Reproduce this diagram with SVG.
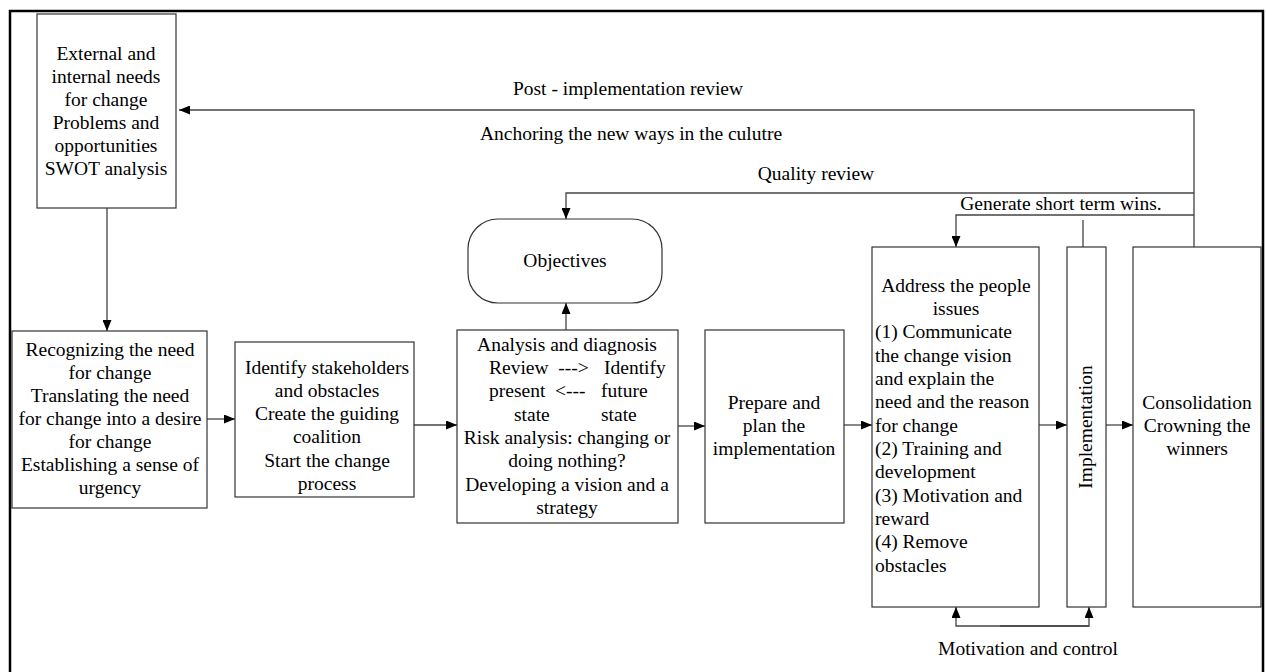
<svg xmlns="http://www.w3.org/2000/svg" width="1266" height="672" viewBox="0 0 1266 672">
<defs>
<marker id="arr" markerUnits="userSpaceOnUse" markerWidth="11" markerHeight="9" refX="11" refY="4.5" orient="auto">
<path d="M0,0 L11,4.5 L0,9 z" fill="#000"/>
</marker>
</defs>
<style>
text{font-family:"Liberation Serif","Times New Roman",serif;font-size:19.5px;fill:#000}
.c{text-anchor:middle}
.box{fill:#fff;stroke:#333;stroke-width:1.2}
.ln{fill:none;stroke:#444;stroke-width:1.3}
.ar{fill:none;stroke:#444;stroke-width:1.3;marker-end:url(#arr)}
</style>
<rect width="1266" height="672" fill="#fff"/>
<path d="M10,672 V11 H1263 V672" fill="none" stroke="#000" stroke-width="2.5"/>

<g id="connectors">
<path class="ar" d="M107,208 V331"/>
<path class="ar" d="M1194,247 V110 H179"/>
<path class="ar" d="M1194,193 H566 V219"/>
<path class="ar" d="M1194,215 H956 V247"/>
<path class="ln" d="M1083,220 V247"/>
<path class="ar" d="M566,330 V303"/>
<path class="ar" d="M207,419 H235"/>
<path class="ar" d="M414,425 H457"/>
<path class="ar" d="M678,426 H705"/>
<path class="ar" d="M844,425 H872"/>
<path class="ar" d="M1039,425 H1067"/>
<path class="ar" d="M1106,425 H1133"/>
<path class="ar" d="M1089,626 H956 V607"/>
<path class="ar" d="M1000,626 H1089 V607"/>
</g>

<g id="labels">
<text class="c" x="628" y="95">Post - implementation review</text>
<text class="c" x="631" y="140">Anchoring the new ways in the culutre</text>
<text class="c" x="816" y="180">Quality review</text>
<text class="c" x="1061" y="210">Generate short term wins.</text>
<text class="c" x="1028" y="655">Motivation and control</text>
</g>

<g id="needs">
<rect class="box" x="37" y="14" width="139" height="194"/>
<text class="c" x="106" y="60">External and</text>
<text class="c" x="106" y="83">internal needs</text>
<text class="c" x="106" y="106">for change</text>
<text class="c" x="106" y="129">Problems and</text>
<text class="c" x="106" y="152">opportunities</text>
<text class="c" x="106" y="175">SWOT analysis</text>
</g>

<g id="recognizing">
<rect class="box" x="12" y="331" width="195" height="177"/>
<text class="c" x="110" y="356">Recognizing the need</text>
<text class="c" x="110" y="379">for change</text>
<text class="c" x="110" y="402">Translating the need</text>
<text class="c" x="110" y="425">for change into a desire</text>
<text class="c" x="110" y="448">for change</text>
<text class="c" x="110" y="471">Establishing a sense of</text>
<text class="c" x="110" y="494">urgency</text>
</g>

<g id="identify">
<rect class="box" x="235" y="342" width="179" height="155"/>
<text class="c" x="327" y="374">Identify stakeholders</text>
<text class="c" x="327" y="397">and obstacles</text>
<text class="c" x="327" y="420">Create the guiding</text>
<text class="c" x="327" y="443">coalition</text>
<text class="c" x="327" y="467">Start the change</text>
<text class="c" x="327" y="490">process</text>
</g>

<g id="objectives">
<rect class="box" x="468" y="219" width="194" height="84" rx="30" ry="30"/>
<text class="c" x="565" y="267">Objectives</text>
</g>

<g id="analysis">
<rect class="box" x="457" y="330" width="221" height="193"/>
<text class="c" x="567" y="351">Analysis and diagnosis</text>
<text x="489" y="374" xml:space="preserve">Review  ---&gt;</text>
<text x="604" y="374">Identify</text>
<text x="489" y="397" xml:space="preserve">present  &lt;---</text>
<text x="601" y="397">future</text>
<text x="514" y="421">state</text>
<text x="601" y="421">state</text>
<text class="c" x="567" y="444">Risk analysis: changing or</text>
<text class="c" x="567" y="467">doing nothing?</text>
<text class="c" x="567" y="491">Developing a vision and a</text>
<text class="c" x="567" y="514">strategy</text>
</g>

<g id="prepare">
<rect class="box" x="705" y="330" width="139" height="193"/>
<text class="c" x="774" y="409">Prepare and</text>
<text class="c" x="774" y="432">plan the</text>
<text class="c" x="774" y="455">implementation</text>
</g>

<g id="people">
<rect class="box" x="872" y="247" width="167" height="360"/>
<text class="c" x="956" y="292">Address the people</text>
<text class="c" x="956" y="315">issues</text>
<text x="875" y="338">(1) Communicate</text>
<text x="875" y="362">the change vision</text>
<text x="875" y="385">and explain the</text>
<text x="875" y="408">need and the reason</text>
<text x="875" y="432">for change</text>
<text x="875" y="455">(2) Training and</text>
<text x="875" y="478">development</text>
<text x="875" y="502">(3) Motivation and</text>
<text x="875" y="525">reward</text>
<text x="875" y="548">(4) Remove</text>
<text x="875" y="572">obstacles</text>
</g>

<g id="implementation">
<rect class="box" x="1067" y="247" width="39" height="360"/>
<text class="c" transform="translate(1092,427) rotate(-90)">Implementation</text>
</g>

<g id="consolidation">
<rect class="box" x="1133" y="247" width="128" height="360"/>
<text class="c" x="1197" y="409">Consolidation</text>
<text class="c" x="1197" y="432">Crowning the</text>
<text class="c" x="1197" y="455">winners</text>
</g>
</svg>
